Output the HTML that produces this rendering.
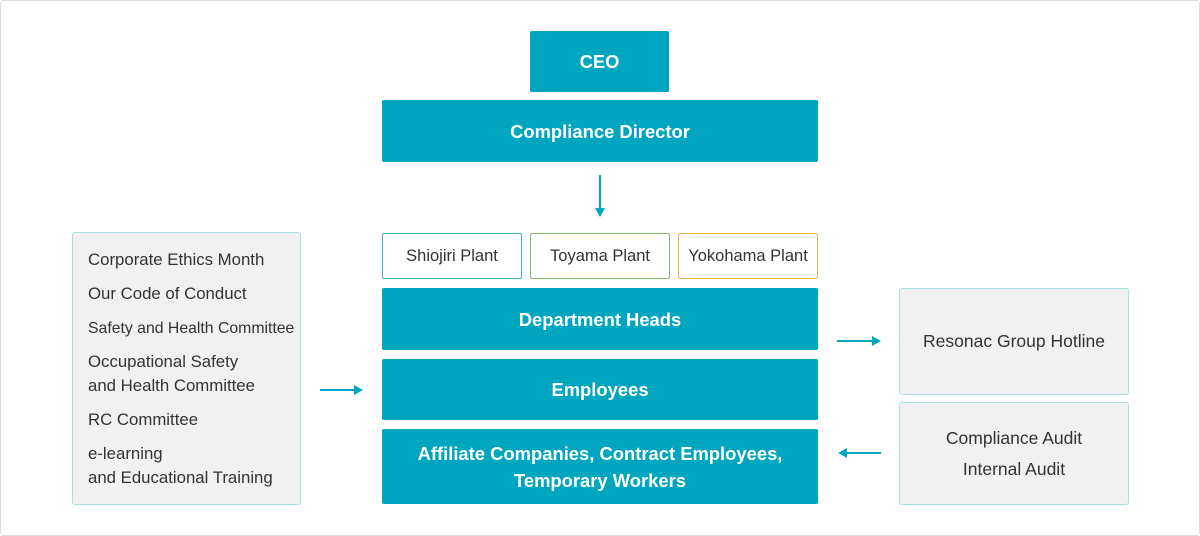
<!DOCTYPE html>
<html><head><meta charset="utf-8"><style>
*{margin:0;padding:0;box-sizing:border-box}
body{width:1200px;height:536px;background:#fff;font-family:"Liberation Sans",sans-serif;position:relative;overflow:hidden}
.frame{position:absolute;left:0;top:0;width:1200px;height:536px;border:1px solid #dcdcdc;border-radius:4px}
.b{position:absolute;display:flex;align-items:center;justify-content:center;text-align:center;border-radius:2px;white-space:nowrap}
.t{background:#00a5bf;color:#fff;font-weight:bold;font-size:18.4px;line-height:27px}
.p{background:#fff;color:#333;font-size:16.5px;border:1px solid}
.g{background:#f1f1f1;border:1px solid #a9dfe7;color:#333;font-size:17.5px;border-radius:3px}
.list{position:absolute;left:72px;top:232px;width:229px;height:273px;background:#f1f1f1;border:1px solid #a9dfe7;border-radius:3px;color:#333;font-size:16.8px}
.list div{position:absolute;left:15px;line-height:24px;white-space:nowrap}
</style></head><body>
<div class="frame"></div>
<div class="b t" style="left:530px;top:31px;width:139px;height:61px">CEO</div>
<div class="b t" style="left:382px;top:100px;width:436px;height:62px">Compliance Director</div>
<div class="b p" style="left:382px;top:233px;width:140px;height:46px;border-color:#3bb5cc">Shiojiri Plant</div>
<div class="b p" style="left:530px;top:233px;width:140px;height:46px;border-color:#7dc36a">Toyama Plant</div>
<div class="b p" style="left:678px;top:233px;width:140px;height:46px;border-color:#f4b43a">Yokohama Plant</div>
<div class="b t" style="left:382px;top:288px;width:436px;height:62px">Department Heads</div>
<div class="b t" style="left:382px;top:359px;width:436px;height:61px">Employees</div>
<div class="b t" style="left:382px;top:429px;width:436px;height:75px">Affiliate Companies, Contract Employees,<br>Temporary Workers</div>
<div class="list">
<div style="top:15px">Corporate Ethics Month</div>
<div style="top:49px">Our Code of Conduct</div>
<div style="top:84px;font-size:15.8px">Safety and Health Committee</div>
<div style="top:117px">Occupational Safety<br>and Health Committee</div>
<div style="top:175px">RC Committee</div>
<div style="top:209px">e-learning<br>and Educational Training</div>
</div>
<div class="b g" style="left:899px;top:288px;width:230px;height:107px">Resonac Group Hotline</div>
<div class="b g" style="left:899px;top:402px;width:230px;height:103px;line-height:31px">Compliance Audit<br>Internal Audit</div>
<svg width="1200" height="536" style="position:absolute;left:0;top:0">
<g stroke="#00a5bf" stroke-width="2" fill="#00a5bf">
<line x1="600" y1="175" x2="600" y2="210"/><path d="M595 208 L605 208 L600 217 Z" stroke="none"/>
<line x1="320" y1="390" x2="356" y2="390"/><path d="M354 385 L363 390 L354 395 Z" stroke="none"/>
<line x1="837" y1="341" x2="874" y2="341"/><path d="M872 336 L881 341 L872 346 Z" stroke="none"/>
<line x1="845" y1="453" x2="881" y2="453"/><path d="M847 448 L838 453 L847 458 Z" stroke="none"/>
</g></svg>
</body></html>
